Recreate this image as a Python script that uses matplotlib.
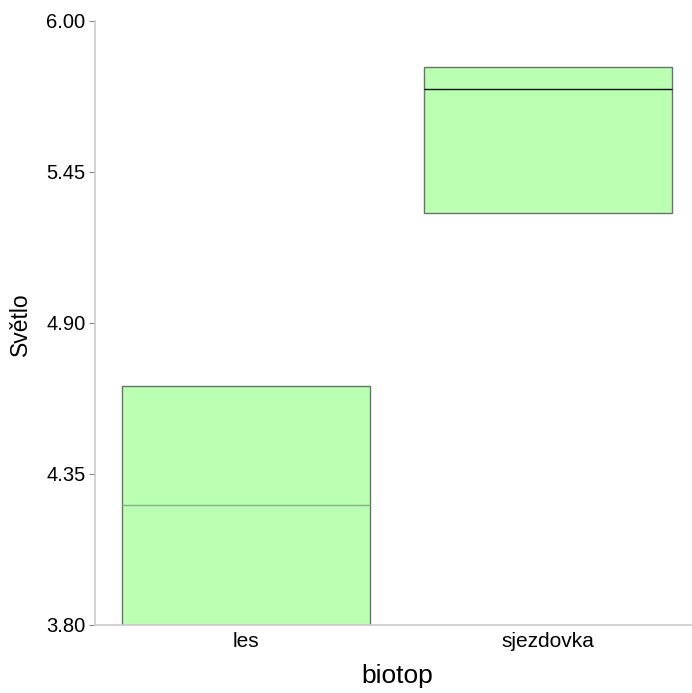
import matplotlib
matplotlib.use("Agg")
import matplotlib.pyplot as plt

categories = ["les", "sjezdovka"]
q1 = [3.80, 5.30]
median = [4.237, 5.751]
q3 = [4.670, 5.831]
median_colors = ["#8aac8a", "#111111"]
yticks = [3.80, 4.35, 4.90, 5.45, 6.00]

plt.rcParams['font.family'] = ['Liberation Sans', 'DejaVu Sans']

fig = plt.figure(figsize=(6.92, 6.93), dpi=100)
W, H = 604.5, 604.3
ax = fig.add_axes([95/692, 68/693, W/692, H/693])

x = list(range(len(categories)))
heights = [b - a for a, b in zip(q1, q3)]
ax.bar(x, heights, bottom=q1, width=0.82, color="#bbffb2",
       edgecolor="#66756a", linewidth=1.0, zorder=2)
for i in x:
    ax.hlines(median[i], i - 0.41, i + 0.41, color=median_colors[i],
              linewidth=1.0, zorder=3)

ax.set_xlim(-0.5, 1.5)
ax.set_ylim(3.80, 6.00)
ax.set_yticks(yticks)
ax.set_yticklabels([f"{v:.2f}" for v in yticks], fontsize=14.5)
ax.set_xticks(x)
ax.set_xticklabels(categories, fontsize=15)
ax.tick_params(axis='x', length=0, pad=5)
ax.tick_params(axis='y', length=4, color="#888888", pad=3)

for s in ["top", "right"]:
    ax.spines[s].set_visible(False)
for s in ["left", "bottom"]:
    ax.spines[s].set_color("#cccccc")
    ax.spines[s].set_linewidth(1.2)

ax.set_xlabel("biotop", fontsize=19)
ax.set_ylabel("Světlo", fontsize=16.5)
ax.xaxis.set_label_coords((397 - 95) / W, -(664 - 625) / H)
ax.yaxis.set_label_coords(-(95 - 32) / W, (625 - 324) / H)

fig.savefig("out.png", dpi=100)
